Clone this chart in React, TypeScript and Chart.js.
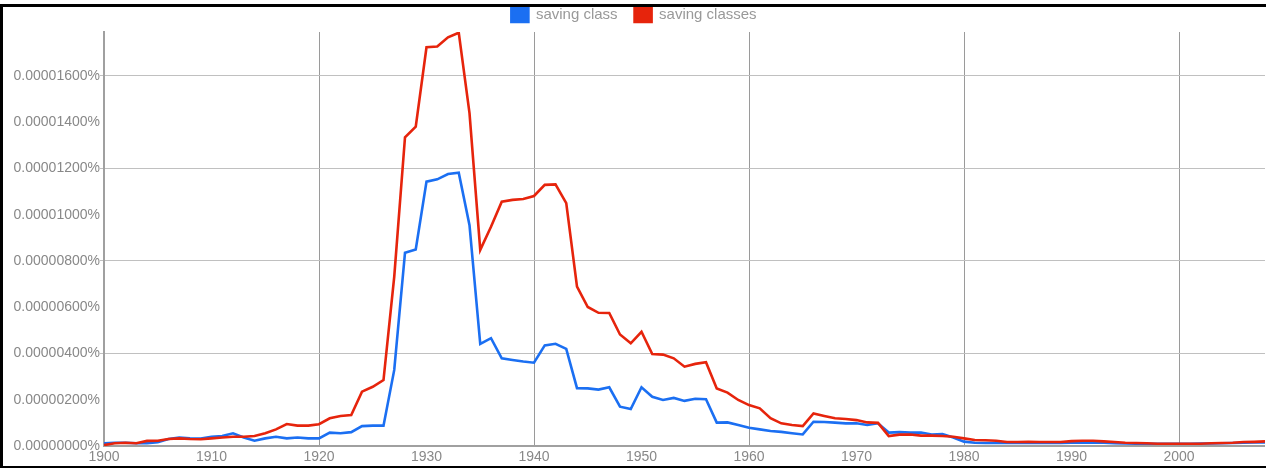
import React, { useEffect, useRef } from "react";
import { Chart, registerables } from "chart.js";

Chart.register(...registerables);

// Years 1900–2008 (categories)
const firstYear = 1900;
const lastYear = 2008;
const years: number[] = Array.from({ length: lastYear - firstYear + 1 }, (_, i) => firstYear + i);

// Values in units of 0.00000001 %
const savingClass: number[] = [
  12, 14, 14, 12, 12, 16, 30, 37, 33, 32,
  40, 43, 55, 37, 23, 33, 40, 33, 37, 33,
  33, 58, 55, 60, 86, 88, 88, 329, 836, 850,
  1143, 1153, 1176, 1182, 955, 441, 466, 379, 372, 365,
  360, 435, 442, 420, 250, 249, 244, 254, 170, 160,
  254, 213, 199, 208, 195, 204, 202, 101, 102, 91,
  79, 72, 65, 61, 55, 50, 105, 104, 101, 98,
  98, 91, 98, 58, 60, 58, 58, 50, 52, 37,
  19, 14, 13, 13, 13, 13, 13, 13, 13, 13,
  14, 14, 14, 14, 12, 11, 10, 10, 10, 10,
  10, 10, 11, 11, 12, 13, 14, 15, 15,
];

const savingClasses: number[] = [
  4, 12, 14, 12, 22, 23, 30, 33, 30, 29,
  33, 37, 40, 40, 43, 55, 72, 95, 88, 88,
  94, 120, 130, 134, 235, 256, 285, 732, 1335, 1381,
  1724, 1727, 1767, 1787, 1439, 848, 948, 1056, 1064, 1068,
  1081, 1129, 1131, 1050, 689, 601, 576, 575, 482, 444,
  494, 398, 395, 379, 343, 355, 362, 249, 231, 199,
  177, 163, 120, 98, 91, 86, 141, 130, 120, 117,
  112, 102, 100, 43, 49, 50, 45, 45, 43, 40,
  33, 26, 25, 23, 17, 17, 18, 17, 17, 17,
  21, 23, 23, 20, 17, 14, 13, 12, 10, 10,
  10, 10, 10, 12, 13, 14, 17, 18, 20,
];

const seriesNames = ["saving class", "saving classes"];
const seriesColors = ["#1b6ff2", "#e6240c"];

// Tick values
const yTickValues = [0, 200, 400, 600, 800, 1000, 1200, 1400, 1600];
const yGridValues = [400, 800, 1200, 1600];
const xTickValues = [1900, 1910, 1920, 1930, 1940, 1950, 1960, 1970, 1980, 1990, 2000];
const xGridValues = [1920, 1940, 1960, 1980, 2000];
const yMax = 1790;

const CLEAR = "rgba(0,0,0,0)";
const yGridColors = yTickValues.map((v) => (yGridValues.includes(v) ? "#c0c0c0" : CLEAR));
const yGridWidths = yTickValues.map((v) => (yGridValues.includes(v) ? 1 : 0));
const xGridColors = xTickValues.map((v) => (xGridValues.includes(v) ? "#9a9a9a" : CLEAR));
const xGridWidths = xTickValues.map((v) => (xGridValues.includes(v) ? 1 : 0));

const legendHeightPlugin = {
  id: "legendHeight",
  beforeLayout(chart: any) {
    const legend = chart.legend;
    if (legend && !legend._patchedFit) {
      const orig = legend.fit;
      legend.fit = function () {
        orig.call(this);
        this.height = 42;
      };
      legend._patchedFit = true;
    }
  },
};

const FONT = "'Liberation Sans', Arial, sans-serif";

export default function App() {
  const canvasRef = useRef<HTMLCanvasElement | null>(null);

  useEffect(() => {
    if (!canvasRef.current) return;
    const chart = new Chart(canvasRef.current, {
      type: "line",
      data: {
        datasets: [
          {
            label: seriesNames[0],
            data: years.map((y, i) => ({ x: y, y: savingClass[i] })),
            borderColor: seriesColors[0],
            backgroundColor: seriesColors[0],
            borderWidth: 2.6,
            pointRadius: 0,
            tension: 0,
            order: 1,
          },
          {
            label: seriesNames[1],
            data: years.map((y, i) => ({ x: y, y: savingClasses[i] })),
            borderColor: seriesColors[1],
            backgroundColor: seriesColors[1],
            borderWidth: 2.6,
            pointRadius: 0,
            tension: 0,
            order: 0,
          },
        ],
      },
      options: {
        responsive: false,
        animation: false,
        layout: { padding: { left: 3, right: 1, top: -10, bottom: 0 } },
        plugins: {
          tooltip: { enabled: false },
          legend: {
            display: true,
            position: "top",
            labels: {
              boxWidth: 17,
              boxHeight: 15,
              padding: 17,
              color: "#999",
              font: { family: FONT, size: 15 },
              sort: (a: any, b: any) => a.datasetIndex - b.datasetIndex,
            },
          },
        },
        scales: {
          x: {
            type: "linear",
            min: firstYear,
            max: lastYear,
            afterBuildTicks: (scale: any) => {
              scale.ticks = xTickValues.map((v) => ({ value: v }));
            },
            afterFit: (scale: any) => {
              scale.height = 24;
            },
            ticks: {
              autoSkip: false,
              maxRotation: 0,
              padding: 3,
              color: "#888",
              font: { family: FONT, size: 14 },
              callback: (v: any) => String(v),
            },
            grid: {
              drawTicks: false,
              lineWidth: xGridWidths,
              color: xGridColors,
            },
            border: { display: true, color: "#a0a0a0", width: 2 },
          },
          y: {
            min: 0,
            max: yMax,
            afterBuildTicks: (scale: any) => {
              scale.ticks = yTickValues.map((v) => ({ value: v }));
            },
            afterFit: (scale: any) => {
              scale.width = 101;
            },
            ticks: {
              autoSkip: false,
              padding: 0,
              color: "#888",
              font: { family: FONT, size: 14 },
              callback: (v: any) => (Number(v) / 1e8).toFixed(8) + "%",
            },
            grid: {
              drawTicks: true,
              tickLength: 4,
              lineWidth: yGridWidths,
              color: yGridColors,
            },
            border: { display: true, color: "#a0a0a0", width: 2 },
          },
        },
      },
      plugins: [legendHeightPlugin],
    });
    return () => chart.destroy();
  }, []);

  return (
    <div style={{ position: "fixed", left: 0, top: 0, width: 1266, height: 470, background: "#fff" }}>
      <canvas ref={canvasRef} width={1266} height={470} style={{ position: "absolute", left: 0, top: 0 }} />
      <div
        style={{
          position: "absolute",
          left: 0,
          top: 4,
          width: 1266,
          height: 464,
          boxSizing: "border-box",
          borderLeft: "3px solid #000",
          borderTop: "3px solid #000",
          borderBottom: "2px solid #000",
          pointerEvents: "none",
        }}
      />
    </div>
  );
}
